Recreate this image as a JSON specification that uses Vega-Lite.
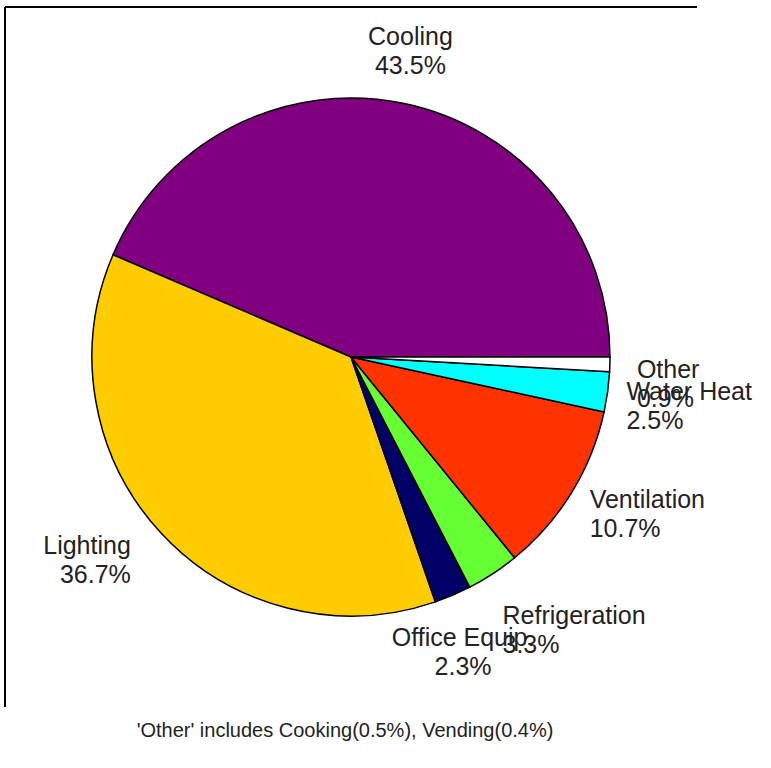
{
  "$schema": "https://vega.github.io/schema/vega-lite/v6.json",
  "width": 692,
  "height": 700,
  "autosize": {"type": "none"},
  "padding": {"left": 5, "top": 7, "right": 74, "bottom": 61},
  "background": "white",
  "view": {"style": "cell", "stroke": "black", "strokeWidth": 2, "strokeDash": [692, 1392, 700, 0], "fill": null},
  "config": {"view": {"stroke": "black", "strokeWidth": 2, "strokeDash": [692, 1392, 700, 0]}},
  "title": {"text": "'Other' includes Cooking(0.5%), Vending(0.4%)", "orient": "bottom", "anchor": "middle", "font": "Liberation Sans", "fontSize": 20, "fontWeight": "normal", "color": "#222222", "baseline": "alphabetic", "offset": 30, "dx": -6},
  "data": {"values": [
    {"k": 1, "cat": "Cooling", "pct": 43.5},
    {"k": 2, "cat": "Lighting", "pct": 36.7},
    {"k": 3, "cat": "Office Equip.", "pct": 2.3},
    {"k": 4, "cat": "Refrigeration", "pct": 3.3},
    {"k": 5, "cat": "Ventilation", "pct": 10.7},
    {"k": 6, "cat": "Water Heat", "pct": 2.5},
    {"k": 7, "cat": "Other", "pct": 0.9}
  ]},
  "transform": [{"calculate": "datum.cat + '\\n' + format(datum.pct, '.1f') + '%'", "as": "label"}],
  "encoding": {
    "theta": {"field": "pct", "type": "quantitative", "stack": true, "scale": {"range": [1.5708, -4.7124]}},
    "order": {"field": "k", "type": "quantitative"}
  },
  "layer": [
    {"mark": {"type": "arc", "outerRadius": 259, "stroke": "black", "strokeWidth": 1.5},
     "encoding": {"color": {"field": "cat", "type": "nominal", "legend": null,
       "scale": {"domain": ["Cooling", "Lighting", "Office Equip.", "Refrigeration", "Ventilation", "Water Heat", "Other"],
                 "range": ["#800080", "#FFCC00", "#000066", "#66FF33", "#FF3300", "#00FFFF", "#FFFFFF"]}}}},
    {"mark": {"type": "text", "radius": 280, "align": "center", "baseline": "top", "dx": 3, "dy": -58, "fontSize": 25, "font": "Liberation Sans", "lineBreak": "\n", "lineHeight": 29, "color": "#222222"},
     "encoding": {"detail": {"field": "cat"}, "text": {"condition": {"test": "datum.cat === 'Cooling'", "field": "label", "type": "nominal"}, "value": ""}}},
    {"mark": {"type": "text", "radius": 280, "align": "right", "baseline": "top", "dx": -15, "dy": -14, "fontSize": 25, "font": "Liberation Sans", "lineBreak": "\n", "lineHeight": 29, "color": "#222222"},
     "encoding": {"detail": {"field": "cat"}, "text": {"condition": {"test": "datum.cat === 'Lighting'", "field": "label", "type": "nominal"}, "value": ""}}},
    {"mark": {"type": "text", "radius": 280, "align": "center", "baseline": "top", "dx": 2, "dy": 12, "fontSize": 25, "font": "Liberation Sans", "lineBreak": "\n", "lineHeight": 29, "color": "#222222"},
     "encoding": {"detail": {"field": "cat"}, "text": {"condition": {"test": "datum.cat === 'Office Equip.'", "field": "label", "type": "nominal"}, "value": ""}}},
    {"mark": {"type": "text", "radius": 280, "align": "left", "baseline": "top", "dx": -2, "dy": 13, "fontSize": 25, "font": "Liberation Sans", "lineBreak": "\n", "lineHeight": 29, "color": "#222222"},
     "encoding": {"detail": {"field": "cat"}, "text": {"condition": {"test": "datum.cat === 'Refrigeration'", "field": "label", "type": "nominal"}, "value": ""}}},
    {"mark": {"type": "text", "radius": 280, "align": "left", "baseline": "top", "dx": 0, "dy": -15, "fontSize": 25, "font": "Liberation Sans", "lineBreak": "\n", "lineHeight": 29, "color": "#222222"},
     "encoding": {"detail": {"field": "cat"}, "text": {"condition": {"test": "datum.cat === 'Ventilation'", "field": "label", "type": "nominal"}, "value": ""}}},
    {"mark": {"type": "text", "radius": 280, "align": "left", "baseline": "top", "dx": -2, "dy": -15, "fontSize": 25, "font": "Liberation Sans", "lineBreak": "\n", "lineHeight": 29, "color": "#222222"},
     "encoding": {"detail": {"field": "cat"}, "text": {"condition": {"test": "datum.cat === 'Water Heat'", "field": "label", "type": "nominal"}, "value": ""}}},
    {"mark": {"type": "text", "radius": 280, "align": "left", "baseline": "top", "dx": 6, "dy": -7, "fontSize": 25, "font": "Liberation Sans", "lineBreak": "\n", "lineHeight": 29, "color": "#222222"},
     "encoding": {"detail": {"field": "cat"}, "text": {"condition": {"test": "datum.cat === 'Other'", "field": "label", "type": "nominal"}, "value": ""}}}
  ]
}
